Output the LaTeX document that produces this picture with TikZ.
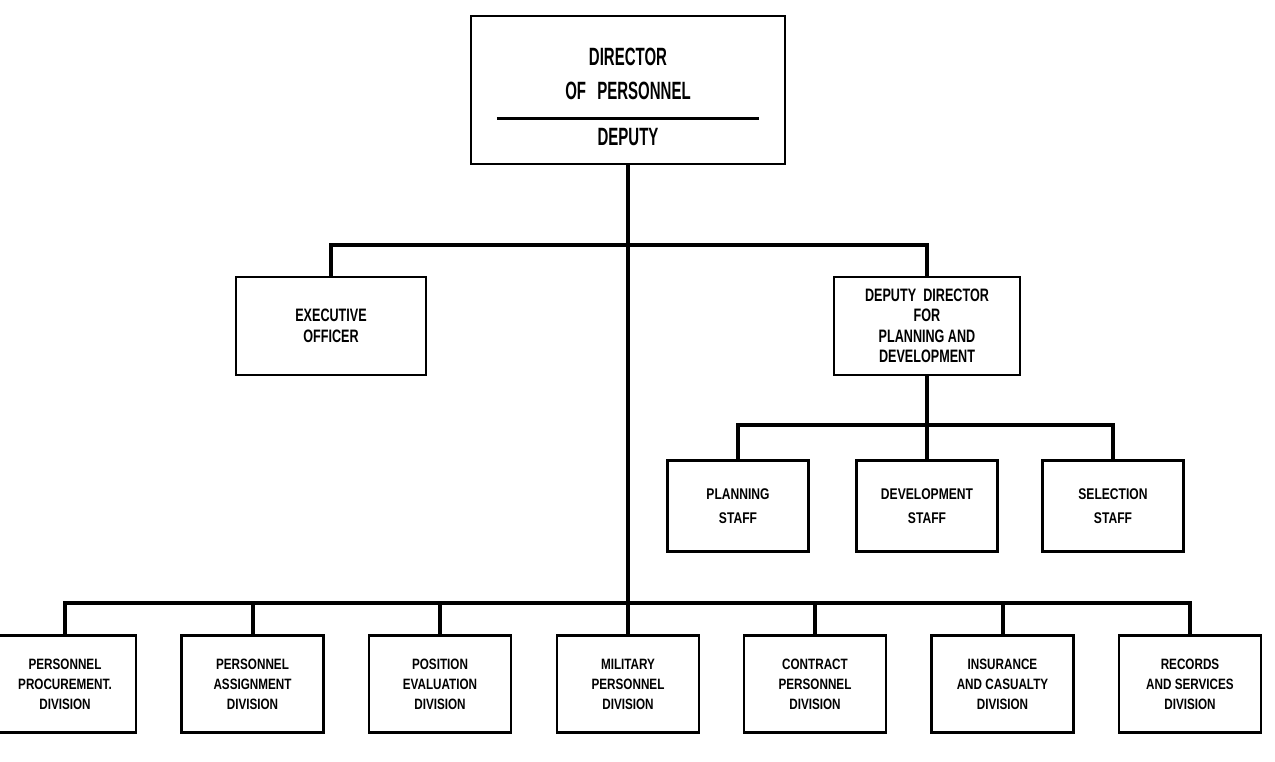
\documentclass[tikz,border=0pt]{standalone}
\usepackage{fontspec}
\setmainfont{Liberation Sans}
\newfontfamily\topfont[FakeStretch=0.6]{Liberation Sans}
\newfontfamily\midfont[FakeStretch=0.7]{Liberation Sans}
\newfontfamily\boldfont[FakeStretch=0.78]{Liberation Sans}
\usetikzlibrary{calc}
\tikzset{
  orgbox/.style={draw, line width=2.5pt, rectangle, align=center, inner sep=0pt},
  topbox/.style={orgbox, minimum width=314pt, minimum height=148pt},
  toptext/.style={align=center, inner sep=0pt, font=\topfont\bfseries\fontsize{25}{34}\selectfont},
  midbox/.style={orgbox, minimum height=98pt, font=\midfont\bfseries\fontsize{18}{21}\selectfont},
  staffbox/.style={orgbox, minimum width=141pt, minimum height=91pt, font=\boldfont\bfseries\fontsize{15.5}{24}\selectfont},
  divbox/.style={orgbox, minimum width=142pt, minimum height=97pt, font=\boldfont\bfseries\fontsize{15}{20}\selectfont},
  conn/.style={line width=4pt, line join=miter},
  divider/.style={line width=2.2pt}
}
\begin{document}
\begin{tikzpicture}[x=1pt,y=-1pt]
\useasboundingbox (0,0) rectangle (1275,761);
% bus levels
\coordinate (b2) at (0,244.5);
\coordinate (b3) at (0,602.5);
\coordinate (b4) at (0,425);
% top box
\node[topbox] (dir) at (628,90) {};
\node[toptext] (dirname) at (628,74) {DIRECTOR\\OF\hspace{0.45em}PERSONNEL};
\node[toptext] (dep) at (628,137) {DEPUTY};
\draw[divider] ($(dir.west)+(27,28.5)$) -- ($(dir.east)+(-27,28.5)$);
% level 2
\node[midbox, minimum width=190pt] (exec) at (331,326) {EXECUTIVE\\OFFICER};
\node[midbox, minimum width=186pt, font=\midfont\bfseries\fontsize{18}{20.5}\selectfont] (dd) at (927,326) {DEPUTY\hspace{0.4em}DIRECTOR\\FOR\\PLANNING AND\\DEVELOPMENT};
% staff
\node[staffbox] (plan) at (738,506) {PLANNING\\STAFF};
\node[staffbox] (dev) at (927,506) {DEVELOPMENT\\STAFF};
\node[staffbox] (sel) at (1113,506) {SELECTION\\STAFF};
% divisions
\node[divbox] (proc) at (65,684) {PERSONNEL\\PROCUREMENT.\\DIVISION};
\node[divbox] (assign) at (252.5,684) {PERSONNEL\\ASSIGNMENT\\DIVISION};
\node[divbox] (pos) at (440,684) {POSITION\\EVALUATION\\DIVISION};
\node[divbox] (mil) at (628,684) {MILITARY\\PERSONNEL\\DIVISION};
\node[divbox] (contr) at (815,684) {CONTRACT\\PERSONNEL\\DIVISION};
\node[divbox] (ins) at (1002.5,684) {INSURANCE\\AND CASUALTY\\DIVISION};
\node[divbox] (rec) at (1190,684) {RECORDS\\AND SERVICES\\DIVISION};
% connectors
\draw[conn] (dir.south) -- (dir.south |- b3);
\draw[conn] (exec.north) -- (exec.north |- b2) -- (dd.north |- b2) -- (dd.north);
\draw[conn] (dd.south) -- (dd.south |- b4);
\draw[conn] (plan.north) -- (plan.north |- b4) -- (sel.north |- b4) -- (sel.north);
\draw[conn] (dev.north) -- (dev.north |- b4);
\draw[conn] (proc.north) -- (proc.north |- b3) -- (rec.north |- b3) -- (rec.north);
\foreach \n in {assign,pos,mil,contr,ins}
  \draw[conn] (\n.north) -- (\n.north |- b3);
\end{tikzpicture}
\end{document}
